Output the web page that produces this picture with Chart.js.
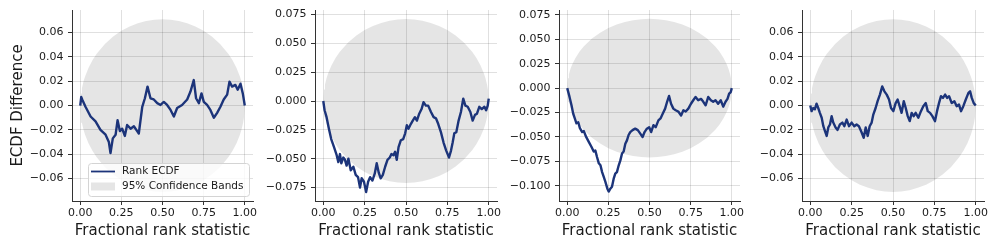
<!DOCTYPE html>
<html><head><meta charset="utf-8">
<script src="https://cdn.jsdelivr.net/npm/chart.js@4.4.1/dist/chart.umd.min.js"></script>
<style>
html,body{margin:0;padding:0;background:#fff}
body{width:996px;height:249px;overflow:hidden;position:relative}
canvas{position:absolute;top:0}
</style></head><body>
<canvas id="c1" width="258" height="249" style="left:0px"></canvas>
<canvas id="c2" width="247" height="249" style="left:258px"></canvas>
<canvas id="c3" width="245" height="249" style="left:505px"></canvas>
<canvas id="c4" width="246" height="249" style="left:750px"></canvas>
<script>
// ---- tick labels ----
const xTickValues = [0, 0.25, 0.5, 0.75, 1];
const xTickLabels = ["0.00", "0.25", "0.50", "0.75", "1.00"];
const yTicksA = [-0.06, -0.04, -0.02, 0, 0.02, 0.04, 0.06];
const yLabelsA = ["\u22120.06", "\u22120.04", "\u22120.02", "0.00", "0.02", "0.04", "0.06"];
const yTicksB = [-0.075, -0.05, -0.025, 0, 0.025, 0.05, 0.075];
const yLabelsB = ["\u22120.075", "\u22120.050", "\u22120.025", "0.000", "0.025", "0.050", "0.075"];
const yTicksC = [-0.1, -0.075, -0.05, -0.025, 0, 0.025, 0.05, 0.075];
const yLabelsC = ["\u22120.100", "\u22120.075", "\u22120.050", "\u22120.025", "0.000", "0.025", "0.050", "0.075"];

// ---- 95% confidence band (upper bound; lower = -upper) ----
const bandX = [0,0.005,0.01,0.02,0.03,0.05,0.075,0.1,0.15,0.2,0.25,0.3,0.35,0.4,0.45,0.5,0.55,0.6,0.65,0.7,0.75,0.8,0.85,0.9,0.925,0.95,0.97,0.98,0.99,0.995,1];
const bandUpper = [0,0.0100,0.0141,0.0199,0.0242,0.0309,0.0374,0.0426,0.0507,0.0568,0.0615,0.0651,0.0677,0.0696,0.0706,0.0710,0.0706,0.0696,0.0677,0.0651,0.0615,0.0568,0.0507,0.0426,0.0374,0.0309,0.0242,0.0199,0.0141,0.0100,0];

// ---- Rank ECDF difference, panel 1 ----
const p1X = [0,0.006,0.012,0.032,0.063,0.093,0.123,0.154,0.174,0.184,0.198,0.215,0.227,0.241,0.255,0.271,0.285,0.306,0.326,0.346,0.356,0.377,0.393,0.409,0.427,0.447,0.468,0.488,0.508,0.528,0.549,0.569,0.589,0.619,0.650,0.670,0.690,0.704,0.721,0.737,0.751,0.771,0.791,0.812,0.832,0.852,0.872,0.893,0.907,0.923,0.943,0.957,0.974,0.988,1.0];
const p1Y = [0,0.007,0.005,-0.001,-0.009,-0.013,-0.020,-0.024,-0.030,-0.039,-0.027,-0.024,-0.012,-0.021,-0.019,-0.025,-0.016,-0.019,-0.017,-0.021,-0.023,-0.001,0.006,0.0156,0.006,0.005,0.002,0.0005,0.003,0.0005,-0.0036,-0.009,-0.002,0.0005,0.005,0.0115,0.021,0.006,0.002,0.010,0.003,0.0005,-0.0036,-0.010,-0.006,-0.001,0.005,0.009,0.0197,0.0156,0.017,0.013,0.018,0.010,0.0];

// ---- panel 2 ----
const p2X = [0,0.008,0.020,0.034,0.048,0.065,0.081,0.091,0.101,0.109,0.121,0.131,0.141,0.152,0.166,0.182,0.196,0.210,0.222,0.232,0.246,0.259,0.271,0.283,0.297,0.311,0.323,0.335,0.347,0.360,0.374,0.388,0.402,0.412,0.424,0.434,0.444,0.455,0.469,0.483,0.495,0.505,0.515,0.529,0.541,0.554,0.566,0.580,0.594,0.606,0.620,0.634,0.651,0.667,0.681,0.695,0.711,0.727,0.743,0.760,0.772,0.782,0.792,0.804,0.818,0.832,0.846,0.859,0.873,0.889,0.903,0.917,0.929,0.943,0.958,0.974,0.984,0.994,1.0];
const p2Y = [0,-0.008,-0.014,-0.024,-0.033,-0.040,-0.047,-0.053,-0.046,-0.054,-0.049,-0.051,-0.056,-0.050,-0.060,-0.057,-0.064,-0.066,-0.075,-0.067,-0.070,-0.079,-0.070,-0.066,-0.069,-0.063,-0.054,-0.062,-0.067,-0.064,-0.057,-0.051,-0.049,-0.046,-0.047,-0.044,-0.051,-0.040,-0.034,-0.033,-0.028,-0.021,-0.024,-0.020,-0.017,-0.014,-0.017,-0.011,-0.007,-0.001,-0.004,-0.004,-0.0095,-0.014,-0.015,-0.020,-0.027,-0.036,-0.043,-0.049,-0.043,-0.036,-0.028,-0.027,-0.017,-0.0095,0.002,-0.004,-0.005,-0.0095,-0.017,-0.012,-0.011,-0.005,-0.007,-0.005,-0.008,-0.004,0.002];

// ---- panel 3 ----
const p3X = [0,0.014,0.026,0.036,0.046,0.056,0.067,0.077,0.091,0.101,0.115,0.131,0.147,0.161,0.171,0.181,0.192,0.202,0.212,0.222,0.232,0.244,0.252,0.262,0.272,0.282,0.292,0.302,0.313,0.323,0.333,0.343,0.353,0.363,0.373,0.383,0.397,0.413,0.429,0.444,0.458,0.470,0.484,0.498,0.510,0.524,0.538,0.554,0.567,0.581,0.595,0.607,0.619,0.631,0.645,0.659,0.675,0.692,0.706,0.720,0.736,0.752,0.766,0.780,0.796,0.813,0.827,0.841,0.857,0.873,0.887,0.901,0.917,0.933,0.948,0.962,0.974,0.984,0.994,1.0];
const p3Y = [0,-0.009,-0.0176,-0.026,-0.031,-0.036,-0.035,-0.041,-0.045,-0.044,-0.050,-0.055,-0.060,-0.065,-0.064,-0.0705,-0.077,-0.079,-0.086,-0.091,-0.096,-0.103,-0.106,-0.103,-0.101,-0.093,-0.0876,-0.086,-0.079,-0.074,-0.067,-0.065,-0.057,-0.0535,-0.048,-0.045,-0.043,-0.0415,-0.043,-0.0466,-0.050,-0.045,-0.0415,-0.040,-0.045,-0.038,-0.040,-0.033,-0.031,-0.026,-0.021,-0.014,-0.008,-0.016,-0.021,-0.0227,-0.024,-0.028,-0.0227,-0.024,-0.021,-0.016,-0.0124,-0.009,-0.0124,-0.011,-0.014,-0.0176,-0.009,-0.0124,-0.014,-0.0124,-0.016,-0.0124,-0.019,-0.014,-0.011,-0.0056,-0.004,0.0];

// ---- panel 4 ----
const p4X = [0,0.008,0.018,0.028,0.038,0.048,0.058,0.069,0.079,0.089,0.099,0.109,0.119,0.129,0.139,0.153,0.165,0.179,0.194,0.206,0.220,0.234,0.250,0.266,0.280,0.294,0.310,0.323,0.335,0.347,0.359,0.371,0.381,0.395,0.407,0.421,0.435,0.448,0.462,0.476,0.488,0.502,0.516,0.528,0.540,0.552,0.565,0.577,0.589,0.601,0.613,0.625,0.637,0.653,0.669,0.683,0.698,0.710,0.724,0.738,0.754,0.766,0.778,0.790,0.802,0.815,0.827,0.839,0.855,0.871,0.885,0.899,0.911,0.925,0.940,0.956,0.966,0.976,0.988,1.0];
const p4Y = [0,-0.0046,-0.002,-0.003,0.0016,-0.002,-0.006,-0.010,-0.017,-0.021,-0.025,-0.018,-0.0156,-0.0087,-0.014,-0.018,-0.020,-0.0156,-0.014,-0.017,-0.0115,-0.017,-0.014,-0.017,-0.0156,-0.017,-0.022,-0.0265,-0.018,-0.025,-0.017,-0.014,-0.0074,-0.002,0.0036,0.009,0.0158,0.0117,0.009,0.005,-0.002,-0.0046,0.002,0.005,-0.0005,-0.006,0.0036,-0.002,-0.0087,-0.0128,-0.006,-0.0087,-0.006,-0.010,-0.0046,-0.0005,0.002,-0.0046,-0.006,-0.0087,-0.0128,-0.0046,0.002,0.0077,0.0063,0.009,0.0063,0.0077,0.002,0.0036,-0.0005,0.0008,-0.0046,-0.0005,0.005,0.0104,0.0117,0.0063,0.002,0];

const LINE_COLOR = 'rgb(28,52,122)';
const BAND_COLOR = 'rgba(0,0,0,0.10)';
const GRID_COLOR = 'rgba(0,0,0,0.12)';
const AXIS_COLOR = '#333333';
const TEXT_COLOR = '#1a1a1a';

Chart.defaults.font.family = '"DejaVu Sans", "Liberation Sans", sans-serif';
Chart.defaults.color = TEXT_COLOR;

const legendPlugin = {
  id: 'boxLegend',
  afterDraw(chart, args, opts) {
    if (!opts || !opts.show) return;
    const ctx = chart.ctx, ca = chart.chartArea, ds = chart.data.datasets;
    const w = 161, h = 33;
    const x0 = ca.right - 4 - w, y0 = ca.bottom - 5 - h;
    ctx.save();
    ctx.beginPath();
    ctx.roundRect(Math.round(x0) + 0.5, Math.round(y0) + 0.5, w, h, 3);
    ctx.fillStyle = 'rgba(255,255,255,0.8)';
    ctx.fill();
    ctx.strokeStyle = '#d4d4d4';
    ctx.lineWidth = 1;
    ctx.stroke();
    ctx.strokeStyle = ds[0].borderColor;
    ctx.lineWidth = 1.8;
    ctx.beginPath();
    ctx.moveTo(x0 + 3, y0 + 8.5);
    ctx.lineTo(x0 + 27, y0 + 8.5);
    ctx.stroke();
    ctx.fillStyle = ds[1].backgroundColor;
    ctx.fillRect(x0 + 3, y0 + 19.5, 24, 8);
    ctx.fillStyle = TEXT_COLOR;
    ctx.font = '10.5px "DejaVu Sans"';
    ctx.textBaseline = 'middle';
    ctx.textAlign = 'left';
    ctx.fillText(ds[0].label, x0 + 34, y0 + 8.5);
    ctx.fillText(ds[1].label, x0 + 34, y0 + 23.5);
    ctx.restore();
  }
};

function pts(xs, ys) { return xs.map((x, i) => ({x: x, y: ys[i]})); }

const panels = [
  {id: 'c1', xs: p1X, ys: p1Y, yMin: -0.0785, yMax: 0.0786, yTicks: yTicksA, yLabels: yLabelsA, axisW: 72, padR: 5, yTitle: true, legend: true},
  {id: 'c2', xs: p2X, ys: p2Y, yMin: -0.0867, yMax: 0.0789, yTicks: yTicksB, yLabels: yLabelsB, axisW: 57, padR: 8, yTitle: false, legend: false},
  {id: 'c3', xs: p3X, ys: p3Y, yMin: -0.1156, yMax: 0.0800, yTicks: yTicksC, yLabels: yLabelsC, axisW: 54, padR: 10, yTitle: false, legend: false},
  {id: 'c4', xs: p4X, ys: p4Y, yMin: -0.0785, yMax: 0.0786, yTicks: yTicksA, yLabels: yLabelsA, axisW: 52, padR: 12, yTitle: false, legend: false}
];

panels.forEach(p => {
  new Chart(document.getElementById(p.id), {
    type: 'line',
    data: {
      datasets: [
        {label: 'Rank ECDF', data: pts(p.xs, p.ys), borderColor: LINE_COLOR, borderWidth: 2.4,
         pointRadius: 0, tension: 0, fill: false, borderJoinStyle: 'round'},
        {label: '95% Confidence Bands', data: pts(bandX, bandUpper), borderWidth: 0, borderColor: 'rgba(0,0,0,0)',
         backgroundColor: BAND_COLOR, pointRadius: 0, tension: 0, fill: '+1'},
        {label: '95% Confidence Bands (lower)', data: pts(bandX, bandUpper.map(v => -v)), borderWidth: 0,
         borderColor: 'rgba(0,0,0,0)', pointRadius: 0, tension: 0, fill: false}
      ]
    },
    options: {
      responsive: false,
      devicePixelRatio: 1,
      animation: false,
      layout: {padding: {left: 0, right: p.padR, top: 10, bottom: 0}},
      plugins: {legend: {display: false}, tooltip: {enabled: false}, boxLegend: {show: p.legend}},
      scales: {
        x: {
          type: 'linear', min: -0.05, max: 1.05,
          afterBuildTicks: s => { s.ticks = xTickValues.map(v => ({value: v})); },
          afterFit: s => { s.height = 48; s.paddingLeft = 0; s.paddingRight = 0; },
          ticks: {callback: (v, i) => xTickLabels[i], font: {size: 11}, color: TEXT_COLOR, padding: 2, maxRotation: 0, autoSkip: false},
          grid: {color: GRID_COLOR, lineWidth: 1, tickColor: AXIS_COLOR, tickLength: 4, tickWidth: 1},
          border: {display: true, color: AXIS_COLOR, width: 1},
          title: {display: true, text: 'Fractional rank statistic', font: {size: 15, lineHeight: 1.2}, color: TEXT_COLOR, padding: {top: 0, bottom: 9}}
        },
        y: {
          type: 'linear', min: p.yMin, max: p.yMax,
          afterBuildTicks: s => { s.ticks = p.yTicks.map(v => ({value: v})); },
          afterFit: s => { s.width = p.axisW; s.paddingTop = 0; s.paddingBottom = 0; },
          ticks: {callback: (v, i) => p.yLabels[i], font: {size: 11}, color: TEXT_COLOR, padding: 4.5, autoSkip: false},
          grid: {color: GRID_COLOR, lineWidth: 1, tickColor: AXIS_COLOR, tickLength: 4, tickWidth: 1},
          border: {display: true, color: AXIS_COLOR, width: 1},
          title: {display: p.yTitle, text: 'ECDF Difference', font: {size: 15, lineHeight: 1.2}, color: TEXT_COLOR, padding: {top: 9, bottom: 0}}
        }
      }
    },
    plugins: [legendPlugin]
  });
});
</script>
</body></html>
